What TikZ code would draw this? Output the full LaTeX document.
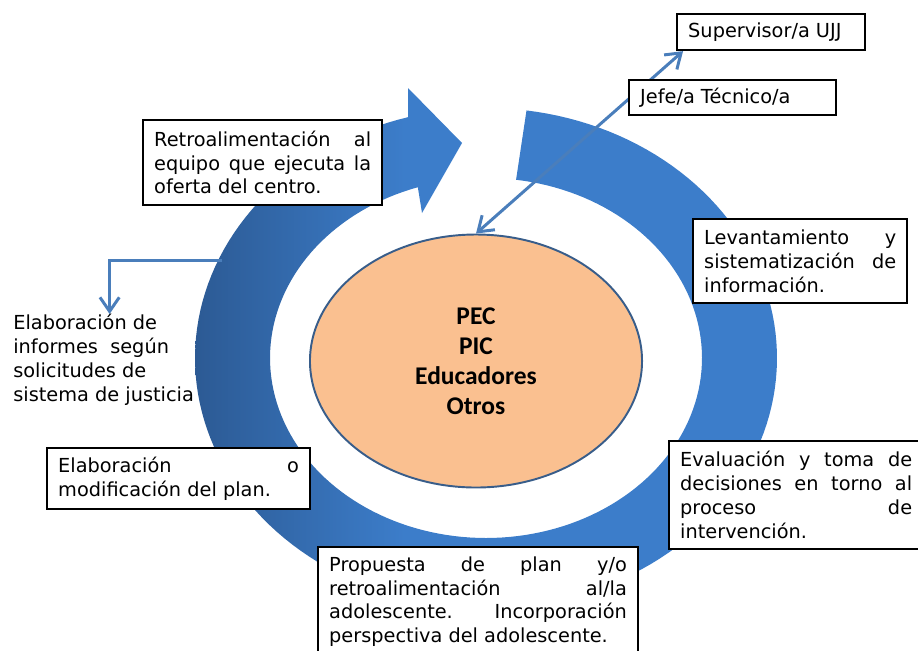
\documentclass[tikz,border=0pt]{standalone}
\usepackage{fontspec}
\setmainfont{DejaVu Sans}
\newfontfamily\carlito{Carlito}
\usetikzlibrary{arrows.meta, shapes.geometric}
\setlength{\parindent}{0pt}

\definecolor{anillo}{RGB}{60,125,202}
\definecolor{anilloOsc}{RGB}{44,90,148}
\definecolor{flechaAzul}{RGB}{74,126,187}
\definecolor{naranja}{RGB}{250,192,144}
\definecolor{borde}{RGB}{56,93,138}

\pgfdeclarehorizontalshading{anilloSombra}{100bp}{color(0bp)=(anilloOsc); color(25bp)=(anilloOsc); color(43bp)=(anillo); color(100bp)=(anillo)}

\newcommand{\renglon}[1]{\makebox[\hsize][s]{#1}\\}

\tikzset{
    caja/.style={draw=black, line width=1.3pt, fill=white, inner xsep=6.3pt, inner ysep=0pt,
        anchor=north west, align=justify, font=\fontsize{11}{13.6}\selectfont},
    centro/.style={ellipse, draw=borde, line width=1.1pt, fill=naranja, inner sep=0pt,
        minimum width=189pt, minimum height=144pt, align=center,
        font=\carlito\bfseries\fontsize{14.5}{17}\selectfont},
    flecha/.style={draw=flechaAzul, line width=1.7pt}
}

\begin{document}
\begin{tikzpicture}[x=0.02cm, y=-0.02cm, >={Straight Barb[length=8pt, width=11pt]}]
            \useasboundingbox (0, 0) rectangle (918, 650);
            \shade[shading=anilloSombra]
                plot[domain=82:-254.5, samples=160] ({486+291*cos(\x)}, {358-250*sin(\x)})
                -- (408, 88) -- (462, 143) -- (422, 213)
                -- plot[domain=-251.6:82, samples=160] ({486+216*cos(\x)}, {358-180*sin(\x)})
                -- cycle;
            \node[centro] (nucleo) at (476, 361) {PEC\\PIC\\Educadores\\Otros};
            \node[caja, text width=94.5pt, minimum height=20.4pt] (supervisor) at (676, 13) {Supervisor/a UJJ};
            \draw[flecha, <->] (nucleo.north) -- ([xshift=4pt]supervisor.south west);
            \node[caja, text width=105.3pt, minimum height=19.8pt] (jefe) at (628, 79) {Jefe/a Técnico/a};
            \node[caja, text width=123.5pt, minimum height=48.2pt] (retro) at (142, 119)
                {\renglon{Retroalimentación al}\renglon{equipo que ejecuta la}oferta del centro.};
            \node[caja, text width=109.3pt, minimum height=47.6pt] (levantamiento) at (692, 218)
                {\renglon{Levantamiento y}\renglon{sistematización de}información.};
            \node[caja, text width=132pt, minimum height=61.2pt] (evaluacion) at (668, 440)
                {\renglon{Evaluación y toma de}\renglon{decisiones en torno al}\renglon{proceso de}intervención.};
            \node[caja, text width=137pt, minimum height=34.6pt] (elaboracion) at (46, 447)
                {\renglon{Elaboración o}modificación del plan.};
            \node[caja, text width=169.4pt, minimum height=62pt] (propuesta) at (317, 546)
                {\renglon{Propuesta de plan y/o}\renglon{retroalimentación al/la}\renglon{adolescente. Incorporación}perspectiva del adolescente.};
            \node[anchor=north west, inner sep=0pt, align=left, font=\fontsize{11}{13.6}\selectfont] (informes) at (13, 314)
                {Elaboración de\\informes\ \ según\\solicitudes de\\sistema de justicia};
            \coordinate (anilloIzq) at (222, 260);
            \draw[flecha, ->] (anilloIzq) -| ([xshift=3.4pt]informes.north);
        \end{tikzpicture}
\end{document}
